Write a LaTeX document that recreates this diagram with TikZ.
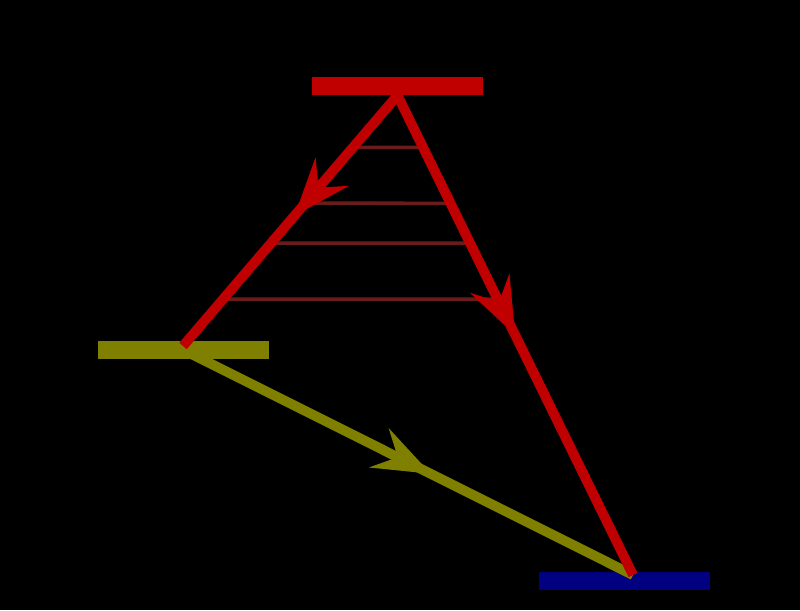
\documentclass[tikz,border=0pt]{standalone}
\usepackage{xcolor}
\usepackage{tikz}
\usetikzlibrary{arrows.meta, calc, decorations.markings}

\definecolor{barred}{RGB}{192,0,0}
\definecolor{barolive}{RGB}{128,128,0}
\definecolor{barnavy}{RGB}{0,0,128}
\definecolor{rungred}{RGB}{105,28,28}

\tikzset{
  level/.style={draw=none, rectangle, minimum width=3.44cm, minimum height=0.36cm, inner sep=0pt},
  beam/.style={line width=5.6pt},
  midarrow/.style={postaction={decorate, decoration={markings,
      mark=at position #1 with {\arrow{Stealth[length=33pt, width=25pt, inset=12pt, line width=1.5pt]}}}}}
}

\begin{document}
\begin{tikzpicture}[x=0.02cm, y=-0.02cm]
            \fill[black] (0,0) rectangle (800,610);
            \node[level, fill=barred] (upper) at (397.5,86) {};
            \node[level, fill=barolive] (middle) at (183.5,350) {};
            \node[level, fill=barnavy] (lower) at (624.5,581) {};
            \coordinate (apex) at (upper.south);
            \coordinate (redend) at (183,346);
            \coordinate (hit) at (633,575);
            \foreach \y in {147,203,243,299}
              \draw[rungred, line width=2pt] ($(apex)!{(\y-95)/251}!(redend)$) -- ($(apex)!{(\y-95)/480}!(hit)$);
            \draw[beam, barolive, midarrow=0.55] (middle.center) -- (hit);
            \draw[beam, barred, midarrow=0.48] (apex) -- (redend);
            \draw[beam, barred, midarrow=0.5] (apex) -- (hit);
        \end{tikzpicture}
\end{document}
